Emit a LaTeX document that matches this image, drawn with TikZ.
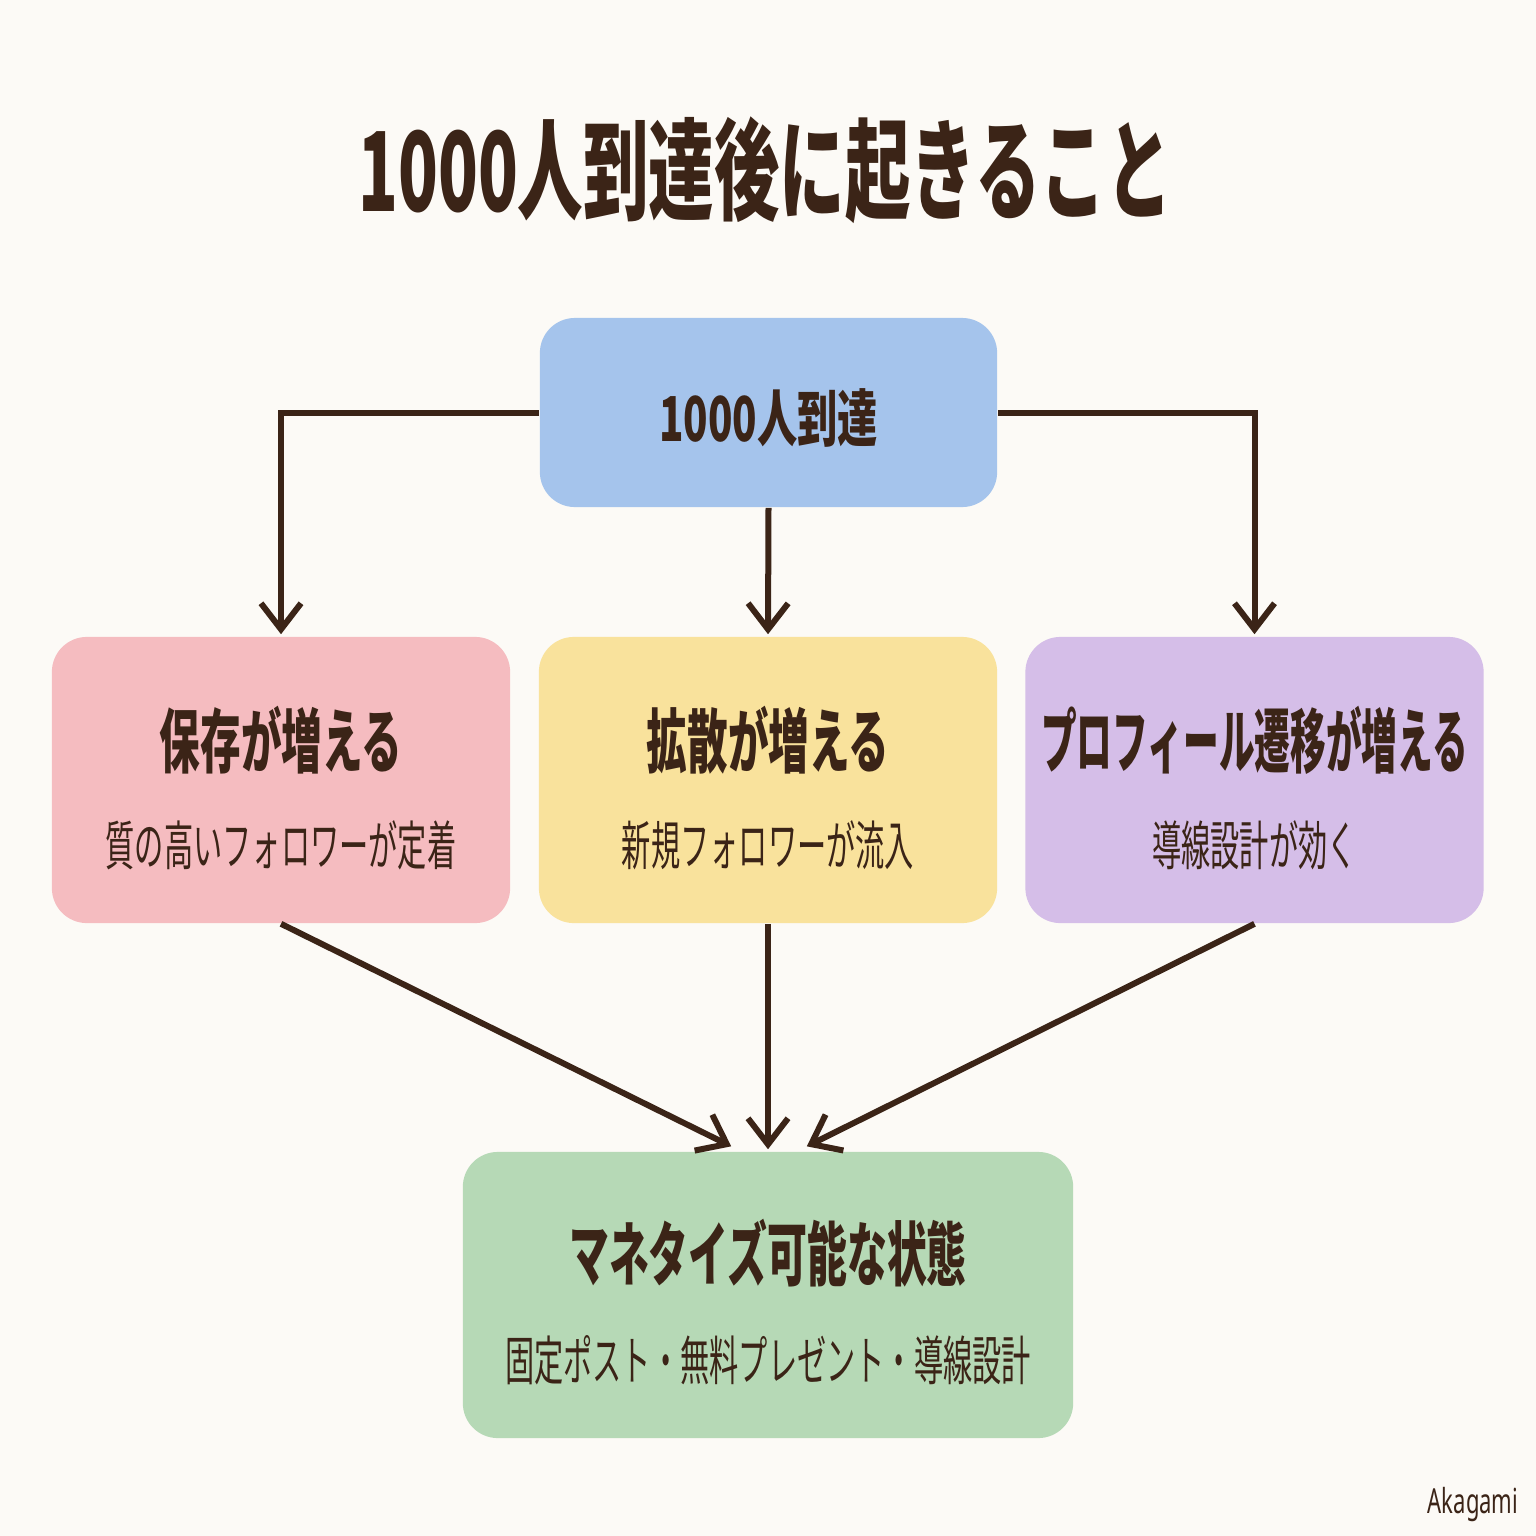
\documentclass[tikz,border=0pt]{standalone}
\usepackage{fontspec}
\usepackage{graphicx}
\usetikzlibrary{arrows.meta,calc}
\newfontfamily\jp{Noto Sans CJK JP}
\newfontfamily\latin{Noto Sans}
\definecolor{ink}{HTML}{3B2417}
\definecolor{paper}{HTML}{FCFAF6}
\definecolor{bluebox}{HTML}{A5C4EC}
\definecolor{pinkbox}{HTML}{F5BCC0}
\definecolor{yellowbox}{HTML}{F9E29C}
\definecolor{purplebox}{HTML}{D5BEE8}
\definecolor{greenbox}{HTML}{B6D9B6}
\newcommand{\sq}[2]{\scalebox{#1}[1]{#2}}

\begin{document}
\begin{tikzpicture}
[x=0.01cm,y=-0.01cm]
\tikzstyle{box}=[rounded corners=0.35cm,minimum width=4.58cm,minimum height=2.86cm,inner sep=0]
\tikzstyle{head}=[text=ink,font=\jp\bfseries\fontsize{19.9}{22}\selectfont,inner sep=0]
\tikzstyle{sub}=[text=ink,font=\jp\fontsize{15.1}{17}\selectfont,inner sep=0]
\tikzstyle{link}=[draw=ink,line width=0.06cm,shorten >=0.02cm,-{Straight Barb[length=0.26cm,width=0.4cm]}]

\fill[paper](0,0)rectangle(1536,1536);

\node(title)[text=ink,font=\jp\bfseries\fontsize{31.3}{34}\selectfont,inner sep=0]
  at(765,170){\sq{0.595}{1000人到達後に起きること}};

% boxes
\node(top)[box,fill=bluebox,minimum width=4.57cm,minimum height=1.89cm]at(768.5,412.5){};
\node(save)[box,fill=pinkbox]at(281,780){};
\node(spread)[box,fill=yellowbox]at(768,780){};
\node(prof)[box,fill=purplebox]at(1254.5,780){};
\node(money)[box,fill=greenbox,minimum width=6.1cm]at(768,1295){};

% texts
\node(topt)[head,font=\jp\bfseries\fontsize{17.6}{20}\selectfont]at($(top)+(0,5)$){\sq{0.65}{1000人到達}};
\node(savet)[head]at($(save)+(0,-40)$){\sq{0.58}{保存が増える}};
\node(saves)[sub]at($(save)+(0,65)$){\sq{0.55}{質の高いフォロワーが定着}};
\node(spreadt)[head]at($(spread)+(0,-40)$){\sq{0.58}{拡散が増える}};
\node(spreads)[sub]at($(spread)+(0,65)$){\sq{0.55}{新規フォロワーが流入}};
\node(proft)[head]at($(prof)+(0,-40)$){\sq{0.51}{プロフィール遷移が増える}};
\node(profs)[sub]at($(prof)+(0,65)$){\sq{0.55}{導線設計が効く}};
\node(moneyt)[head]at($(money)+(0,-42)$){\sq{0.57}{マネタイズ可能な状態}};
\node(moneys)[sub]at($(money)+(0,65)$){\sq{0.55}{固定ポスト・無料プレゼント・導線設計}};

\node(sign)[text=ink,font=\latin\fontsize{9.8}{11}\selectfont,inner sep=0,anchor=east]
  at(1519,1505){\sq{0.64}{Akagami}};

% arrows
\coordinate(inl)at($(money.north)+(-35,-4)$);
\coordinate(inr)at($(money.north)+(37,-4)$);
\draw[link](top.west)-|(save.north);
\draw[link](top.east)-|(prof.north);
\draw[link](top.south)--(spread.north);
\draw[link](save.south)--(inl);
\draw[link](spread.south)--(money.north);
\draw[link](prof.south)--(inr);
\end{tikzpicture}
\end{document}
